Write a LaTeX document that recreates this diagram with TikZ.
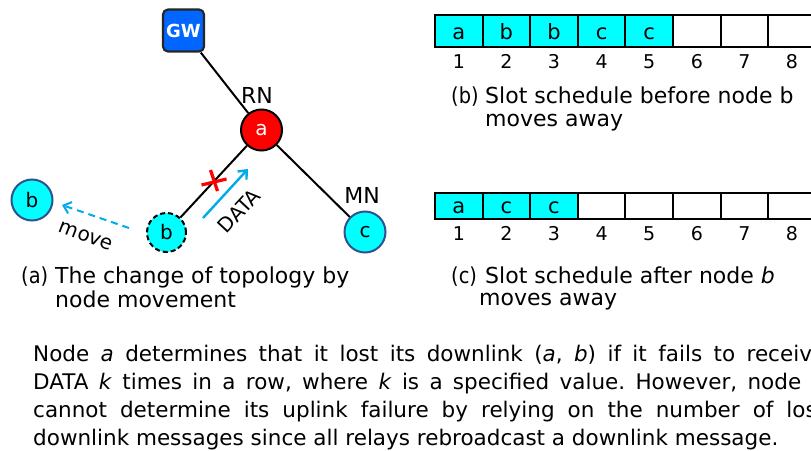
\documentclass[tikz,border=0pt]{standalone}
\usepackage{fontspec}
\setmainfont{DejaVu Sans}
\usetikzlibrary{arrows.meta}
\definecolor{gwblue}{RGB}{0,102,255}
\definecolor{slotcyan}{RGB}{0,255,255}
\definecolor{skyarrow}{RGB}{0,170,235}
\definecolor{rimblue}{RGB}{47,82,143}
\newcommand{\fs}[1]{\fontsize{#1}{#1}\selectfont}
\newcommand{\tag}[1]{\scalebox{0.88}[1]{#1}}
\frenchspacing
\tikzset{
  link/.style={draw=black, line width=2pt},
  gwbox/.style={draw=black!85, fill=gwblue, rounded corners=5pt, minimum width=41pt,
    minimum height=42pt, line width=2.2pt, text=white, font=\bfseries\fs{18}, inner sep=0pt},
  relay/.style={circle, draw=black, fill=red, line width=2pt, minimum size=41pt,
    inner sep=0pt, text=white, font=\fs{20}},
  mobile/.style={circle, draw=rimblue, fill=slotcyan, line width=2pt, minimum size=41pt,
    inner sep=0pt, font=\fs{20}},
  ghost/.style={circle, draw=black, fill=slotcyan, line width=2pt, dash pattern=on 5pt off 3pt,
    minimum size=39pt, inner sep=0pt, font=\fs{20}},
  lbl/.style={font=\fs{22}, inner sep=0pt},
  arrowlbl/.style={font=\fs{20}, inner sep=0pt},
  captext/.style={font=\fs{22}, inner sep=0pt, anchor=base west},
  slot/.style={draw=black, line width=2pt},
  slotname/.style={font=\fs{21}, inner sep=0pt, anchor=base},
  slotnum/.style={font=\fs{19}, inner sep=0pt, anchor=base},
  bodyline/.style={font=\fs{21.5}, inner sep=0pt, anchor=base west},
}
\begin{document}
\begin{tikzpicture}[x=1pt, y=-1pt]
\useasboundingbox (0,0) rectangle (811,450);
\clip (0,0) rectangle (811,450);

% ---- topology ----
\node[gwbox] (gw) at (183.5,30.5) {GW};
\node[relay] (a) at (261.5,130) {a};
\node[mobile] (c) at (365,232) {c};
\node[ghost] (bold) at (166.5,232.5) {b};
\node[mobile] (bnew) at (32,200) {b};
\node[lbl] (rn) at (257,95) {RN};
\node[lbl] (mn) at (362,195) {MN};

\draw[link] (gw) -- (a);
\draw[link] (a) -- (c);
\draw[link] (bold) -- (a);

% broken uplink mark
\coordinate (xm) at (213.5,182);
\draw[red, line width=3.2pt] ([shift={(-12,3)}]xm) -- ([shift={(13,-3)}]xm);
\draw[red, line width=3.2pt] ([shift={(-3,-12)}]xm) -- ([shift={(4,9)}]xm);

% DATA arrow
\coordinate (d0) at (203,218);
\coordinate (d1) at (248,169);
\draw[skyarrow, line width=2.4pt, -{Straight Barb[length=7pt,width=12pt]}] (d0) -- (d1);
\node[arrowlbl, rotate=47] (data) at (239,211) {DATA};

% movement arrow
\coordinate (m0) at (129,228);
\coordinate (m1) at (62,205);
\draw[skyarrow, line width=2pt, dash pattern=on 7pt off 5pt,
  -{Straight Barb[length=7pt,width=12pt]}] (m0) -- (m1);
\node[arrowlbl, rotate=-21] (move) at (86,236) {move};

\node[captext] (capa0) at (21,283) {\tag{(a)}};
\node[captext] (capa1) at (55,283) {The change of topology by};
\node[captext] (capa2) at (55,307.5) {node movement};

% ---- slot schedules ----
\foreach \i/\t in {1/a,2/b,3/b,4/c,5/c,6/,7/,8/} {
  \pgfmathsetmacro{\xl}{435+(\i-1)*47.6}
  \ifx\t\empty
    \draw[slot] (\xl,15) rectangle ++(47.6,32);
  \else
    \draw[slot, fill=slotcyan] (\xl,15) rectangle ++(47.6,32);
  \fi
  \node[slotname] (top\i) at (\xl+23.8,39) {\t};
  \node[slotnum] (tn\i) at (\xl+23.8,68) {\i};
}
\foreach \i/\t in {1/a,2/c,3/c,4/,5/,6/,7/,8/} {
  \pgfmathsetmacro{\xl}{435+(\i-1)*47.6}
  \ifx\t\empty
    \draw[slot] (\xl,193) rectangle ++(47.6,26);
  \else
    \draw[slot, fill=slotcyan] (\xl,193) rectangle ++(47.6,26);
  \fi
  \node[slotname] (bot\i) at (\xl+23.8,213) {\t};
  \node[slotnum] (bn\i) at (\xl+23.8,240) {\i};
}

\node[captext] (capb0) at (451,103) {\tag{(b)}};
\node[captext] (capb1) at (485,103) {Slot schedule before node b};
\node[captext] (capb2) at (485,126) {moves away};
\node[captext] (capc0) at (451,283) {\tag{(c)}};
\node[captext] (capc1) at (485,283) {Slot schedule after node \textit{b}};
\node[captext] (capc2) at (479,305) {moves away};

% ---- explanation ----
\node[bodyline] (p1) at (33,361) {\hbox to 792pt{Node \textit{a} determines that it lost its downlink (\textit{a}, \textit{b}) if it fails to receive}};
\node[bodyline] (p2) at (33,389.5) {\hbox to 792pt{DATA \textit{k} times in a row, where \textit{k} is a specified value. However, node \textit{b}}};
\node[bodyline] (p3) at (33,417.5) {\hbox to 792pt{cannot determine its uplink failure by relying on the number of lost}};
\node[bodyline] (p4) at (33,445.5) {downlink messages since all relays rebroadcast a downlink message.};
\end{tikzpicture}
\end{document}
